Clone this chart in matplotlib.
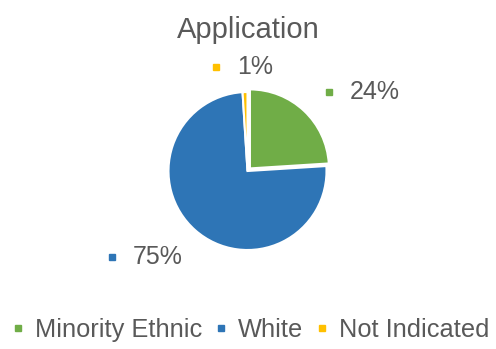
import matplotlib
matplotlib.use("Agg")
import matplotlib.pyplot as plt
from matplotlib.lines import Line2D

plt.rcParams['font.family'] = ['Liberation Sans', 'DejaVu Sans']

categories = ['Minority Ethnic', 'White', 'Not Indicated']
values = [24, 75, 1]
colors = ['#70AD47', '#2E75B6', '#FFC000']
explode = [0.045, 0, 0]
title = 'Application'

# label positions (marker x, text x, y) in pie-radius units
label_pos = [(1.03, 1.30, 1.0), (-1.72, -1.45, -1.09), (-0.40, -0.13, 1.32)]

text_color = '#595959'
W, H = 496, 349
fig = plt.figure(figsize=(W / 100, H / 100), dpi=100)

cx, cy, r = 247.5, H - 171, 79
ax = fig.add_axes([(cx - r) / W, (cy - r) / H, 2 * r / W, 2 * r / H])
ax.pie(values, colors=colors, startangle=90, counterclock=False,
       explode=explode, radius=1,
       wedgeprops=dict(edgecolor='white', linewidth=1.5))
ax.set_xlim(-1, 1)
ax.set_ylim(-1, 1)
ax.set_aspect('equal')
ax.axis('off')

for v, c, (mx, tx, y) in zip(values, colors, label_pos):
    ax.plot(mx, y, marker='s', color=c, markersize=5, clip_on=False)
    ax.text(tx, y, f'{v}%', fontsize=18, color=text_color, va='center',
            ha='left', clip_on=False)

fig.text(0.5, 1 - 30 / H, title, fontsize=21, color=text_color,
         ha='center', va='center')

handles = [Line2D([], [], marker='s', linestyle='none', color=c, markersize=5)
           for c in colors]
fig.legend(handles, categories, loc='center', bbox_to_anchor=(0.505, 1 - 330 / H),
           ncol=3, frameon=False, fontsize=18.3, labelcolor=text_color,
           handlelength=0.5, handletextpad=0.4, columnspacing=0.5,
           borderpad=0, borderaxespad=0)

fig.savefig('out.png', dpi=100, facecolor='white')
